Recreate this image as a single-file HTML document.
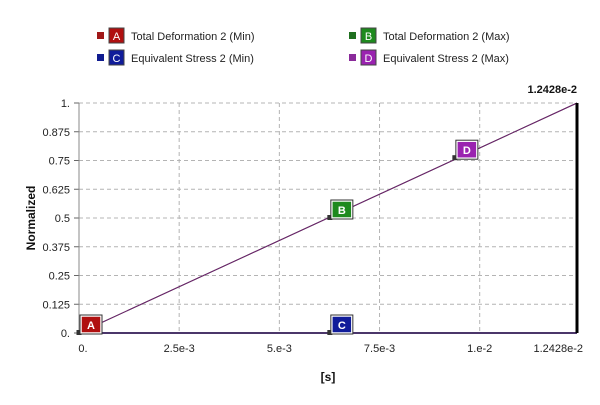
<!DOCTYPE html>
<html><head><meta charset="utf-8"><style>
body{margin:0;background:#fff;font-family:"Liberation Sans",sans-serif}
svg text{font-family:"Liberation Sans",sans-serif}
</style></head><body>
<svg width="600" height="400">
<g font-size="11" fill="#222">
 <g><rect x="97" y="32" width="7" height="7" fill="#a01818"/><rect x="109" y="28" width="15" height="15" fill="#b01010" stroke="#444"/><text x="116.5" y="40" fill="#fff" text-anchor="middle">A</text><text x="131" y="40">Total Deformation 2 (Min)</text></g>
 <g><rect x="349" y="32" width="7" height="7" fill="#207020"/><rect x="361" y="28" width="15" height="15" fill="#1e8a1e" stroke="#444"/><text x="368.5" y="40" fill="#fff" text-anchor="middle">B</text><text x="383" y="40">Total Deformation 2 (Max)</text></g>
 <g><rect x="97" y="54" width="7" height="7" fill="#101c90"/><rect x="109" y="50" width="15" height="15" fill="#101c9a" stroke="#444"/><text x="116.5" y="62" fill="#fff" text-anchor="middle">C</text><text x="131" y="62">Equivalent Stress 2 (Min)</text></g>
 <g><rect x="349" y="54" width="7" height="7" fill="#8a2a9a"/><rect x="361" y="50" width="15" height="15" fill="#9a22b0" stroke="#444"/><text x="368.5" y="62" fill="#fff" text-anchor="middle">D</text><text x="383" y="62">Equivalent Stress 2 (Max)</text></g>
</g>
<g id="grid"></g>
<g id="axes"></g>
<g id="series"></g>
<text x="577" y="93" font-size="11" font-weight="bold" text-anchor="end" fill="#111">1.2428e-2</text>
<text x="328" y="381" font-size="12" font-weight="bold" text-anchor="middle" fill="#111">[s]</text>
<text transform="translate(35,218) rotate(-90)" font-size="12" font-weight="bold" text-anchor="middle" fill="#111">Normalized</text>
</svg>
<script>
const xTicks=[0,0.0025,0.005,0.0075,0.01,0.012428];
const xTickLabels=["0.","2.5e-3","5.e-3","7.5e-3","1.e-2","1.2428e-2"];
const yTicks=[0,0.125,0.25,0.375,0.5,0.625,0.75,0.875,1];
const yTickLabels=["0.","0.125","0.25","0.375","0.5","0.625","0.75","0.875","1."];
const times=[0,0.012428];
const seriesA=[0,0];
const seriesB=[0,1];
const seriesC=[0,0];
const seriesD=[0,1];
const markerNames=["A","B","C","D"];
const markerTimes=[0,0.00626,0.00626,0.00938];
const markerValues=[0,0.5,0,0.76];
const markerColors=["#b01010","#1e8a1e","#101c9a","#9a22b0"];
const X0=79,X1=577,Y0=333,Y1=103,XMAX=0.012428;
const sx=t=>X0+t/XMAX*(X1-X0), sy=v=>Y0-v*(Y0-Y1);
const NS="http://www.w3.org/2000/svg";
function mk(tag,attrs,parent){const e=document.createElementNS(NS,tag);for(const k in attrs)e.setAttribute(k,attrs[k]);document.getElementById(parent).appendChild(e);return e;}
xTicks.forEach((t,i)=>{
 const last=i==xTicks.length-1;
 if(i>0&&!last){const l=mk('line',{x1:sx(t),x2:sx(t),y1:Y1,y2:Y0,stroke:'#b4b4b4','stroke-dasharray':'4,3'},'grid');}
 const tx=mk('text',{x:last?sx(t)+6:sx(t)+(i==0?4:0),y:Y0+19,'font-size':11,'text-anchor':last?'end':'middle',fill:'#222'},'axes');tx.textContent=xTickLabels[i];
 
});
yTicks.forEach((v,i)=>{
 if(i>0){const l=mk('line',{x1:X0,x2:X1,y1:sy(v),y2:sy(v),stroke:'#b4b4b4','stroke-dasharray':'4,3'},'grid');}
 const tk=mk('line',{x1:X0-5,x2:X0,y1:sy(v),y2:sy(v),stroke:'#666'},'axes');
 const tx=mk('text',{x:X0-9,y:sy(v)+4,'font-size':11,'text-anchor':'end',fill:'#222'},'axes');tx.textContent=yTickLabels[i];
 
});
let a=mk('line',{x1:X0,x2:X0,y1:Y1,y2:Y0,stroke:'#888'},'axes');
function path(vals,color,w,name){const d=times.map((t,i)=>(i?'L':'M')+sx(t)+','+sy(vals[i])).join(' ');const p=mk('path',{d:d,stroke:color,'stroke-width':w,fill:'none'},'series');}
path(seriesA,'#601818',1.5,'series-a-line');
path(seriesC,'#2a1a60',1.5,'series-c-line');
path(seriesB,'#205020',1,'series-b-line');
path(seriesD,'#702070',1,'series-d-line');
const cur=mk('line',{x1:X1,x2:X1,y1:Y1,y2:Y0,stroke:'#000','stroke-width':3},'series');
markerNames.forEach((n,i)=>{
 const x=sx(markerTimes[i]),y=sy(markerValues[i]);
 const s=mk('rect',{x:x-2.5,y:y-3,width:5,height:5,fill:'#333'},'series');
 const b=mk('rect',{x:x+2,y:y-17,width:20,height:17,fill:markerColors[i],stroke:'#fff','stroke-width':1.5},'series');
 const o=mk('rect',{x:x+1,y:y-18,width:22,height:19,fill:'none',stroke:'#333','stroke-width':1},'series');
 const t=mk('text',{x:x+12,y:y-4,'font-size':11,'font-weight':'bold',fill:'#fff','text-anchor':'middle'},'series');t.textContent=n;
});
</script>
</body></html>
